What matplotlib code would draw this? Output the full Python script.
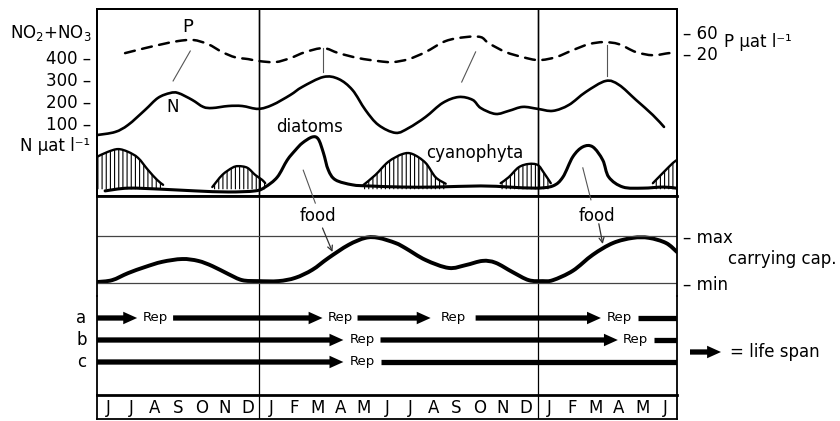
import matplotlib
matplotlib.use('Agg')
import matplotlib.pyplot as plt
from matplotlib.patches import FancyArrowPatch, ArrowStyle, PathPatch
from matplotlib.path import Path

# x axis is in months, 0 = start of June, 25 months shown
MONTHS = list('JJASOND') + list('JFMAMJJASOND') + list('JFMAMJ')
YEAR_BREAKS = [7, 19]

# NO2+NO3 (N, µat/l)
n_month = [0.0, 0.78, 1.34, 2.07, 2.63, 3.15, 3.50, 4.10, 4.58, 4.97, 5.66, 6.26, 6.95, 7.56, 8.33,
           8.85, 9.76, 10.41, 11.01, 11.57, 12.13, 12.87, 13.43, 14.16, 14.90, 15.59, 16.19, 16.54,
           17.18, 17.75, 18.35, 19.0, 19.65, 20.34, 21.07, 21.93, 22.50, 23.23, 23.96, 24.44]
n_value = [45, 59, 91, 159, 214, 236, 236, 205, 173, 168, 177, 177, 164, 182, 227,
           264, 309, 300, 250, 159, 91, 55, 77, 127, 191, 218, 205, 168,
           141, 155, 173, 164, 155, 182, 241, 291, 273, 205, 136, 82]

# P (µat/l), dashed
p_month = [1.21, 2.07, 2.81, 3.50, 4.15, 4.79, 5.40, 5.96, 6.52, 7.0, 7.69, 8.33, 8.98, 9.76, 10.41,
           11.27, 12.13, 12.74, 13.43, 14.16, 15.03, 15.89, 16.54, 16.88, 17.62, 18.35, 19.04, 19.78,
           20.51, 21.2, 21.85, 22.5, 23.23, 23.96, 24.65, 24.96]
p_value = [20, 29.5, 37, 43, 45, 37, 22, 12, 8.6, 4.8, 2.9, 10.5, 22, 29.5, 20,
           10.5, 4.8, 2.9, 8.6, 22, 43, 50.5, 50.5, 39, 22, 12.4, 6.7, 12.4,
           25.7, 37, 41, 37, 22, 16, 20, 20]

# diatoms (relative abundance)
dia_month = [0.35, 1.34, 2.81, 4.23, 5.66, 6.82, 7.25, 7.77, 8.20, 8.55, 8.85, 9.28, 9.54, 9.76, 9.97,
             10.28, 11.01, 11.70, 13.17, 14.59, 16.54, 17.75, 18.91, 19.65, 20.08, 20.51, 20.94,
             21.37, 21.80, 22.06, 22.67, 23.53, 24.40, 24.96]
dia_value = [0.02, 0.07, 0.05, 0.02, 0.0, 0.02, 0.09, 0.27, 0.58, 0.76, 0.89, 1.0, 0.96, 0.71, 0.40,
             0.22, 0.13, 0.11, 0.09, 0.09, 0.11, 0.09, 0.07, 0.11, 0.27, 0.64, 0.82,
             0.82, 0.58, 0.27, 0.09, 0.07, 0.09, 0.07]

# cyanophyta blooms (relative abundance)
cy1_month = [0.0, 0.47, 0.91, 1.34, 1.77, 2.20, 2.59, 2.85]
cy1_value = [0.64, 0.73, 0.78, 0.73, 0.62, 0.40, 0.22, 0.13]
cy2_month = [4.97, 5.40, 5.83, 6.09, 6.48, 6.82, 7.12, 7.25]
cy2_value = [0.09, 0.31, 0.44, 0.47, 0.44, 0.31, 0.22, 0.16]
cy3_month = [11.49, 12.0, 12.56, 13.17, 13.60, 14.16, 14.59, 15.03]
cy3_value = [0.13, 0.31, 0.55, 0.69, 0.69, 0.53, 0.27, 0.15]
cy4_month = [17.40, 17.75, 18.18, 18.61, 19.0, 19.26, 19.56]
cy4_value = [0.16, 0.27, 0.45, 0.51, 0.49, 0.35, 0.16]
cy5_month = [23.96, 24.40, 24.83, 25.0]
cy5_value = [0.16, 0.35, 0.53, 0.58]

# carrying capacity (0 = min, 1 = max)
cc_month = [0.0, 0.65, 1.34, 2.07, 2.81, 3.67, 4.36, 4.97, 5.66, 6.26, 6.95, 7.82, 8.55, 9.28, 9.97,
            10.84, 11.57, 12.13, 12.87, 13.30, 14.16, 15.16, 15.89, 16.62, 17.18, 17.92, 18.61,
            19.21, 19.65, 20.51, 21.37, 22.24, 23.10, 23.79, 24.53, 25.0]
cc_value = [0.02, 0.06, 0.21, 0.34, 0.45, 0.51, 0.47, 0.36, 0.19, 0.06, 0.04, 0.04, 0.11, 0.28, 0.53,
            0.81, 0.96, 0.96, 0.85, 0.74, 0.49, 0.32, 0.38, 0.47, 0.43, 0.23, 0.06,
            0.04, 0.06, 0.26, 0.60, 0.85, 0.96, 0.96, 0.85, 0.66]

# life span of generations a, b, c (month start, month end); gaps = reproduction
life_a = [(0, 1.73), (3.28, 9.72), (11.23, 14.38), (16.32, 21.72), (23.32, 25)]
life_b = [(0, 10.62), (12.22, 22.45), (24.0, 25)]
life_c = [(0, 10.62), (12.22, 25)]

# leader lines P peak -> N peak  (month, N)
leaders = [((4.02, 427), (3.28, 291)), ((9.72, 441), (9.72, 332)),
           ((16.32, 423), (15.72, 286)), ((21.98, 455), (21.98, 314))]
# diatom peak -> food -> carrying capacity (month, cap)
food_lines = [((8.89, 2.40), (9.41, 1.70)), ((20.94, 2.45), (21.29, 1.77))]
food_arrows = [((9.72, 1.17), (10.15, 0.66)), ((21.63, 1.26), (21.80, 0.83))]
food_text = [(9.54, 1.43), (21.55, 1.43)]

W, H = 840, 421
FS = 12
plt.rcParams['font.family'] = ['DejaVu Sans']
plt.rcParams['hatch.linewidth'] = 0.8
fig = plt.figure(figsize=(W / 100, H / 100), dpi=100)


def box(top, bottom):
    return [97 / W, 1 - bottom / H, 580 / W, (bottom - top) / H]


def smooth(xs, ys):
    # Catmull-Rom through the read points, drawn as cubic bezier
    pts = list(zip(xs, ys))
    n = len(pts)
    verts = [pts[0]]
    codes = [Path.MOVETO]
    for i in range(n - 1):
        p0, p1, p2, p3 = pts[max(i - 1, 0)], pts[i], pts[i + 1], pts[min(i + 2, n - 1)]
        c1 = (p1[0] + (p2[0] - p0[0]) / 6, p1[1] + (p2[1] - p0[1]) / 6)
        c2 = (p2[0] - (p3[0] - p1[0]) / 6, p2[1] - (p3[1] - p1[1]) / 6)
        verts += [c1, c2, p2]
        codes += [Path.CURVE4] * 3
    return verts, codes


def curve(ax, xs, ys, **kw):
    verts, codes = smooth(xs, ys)
    ax.add_patch(PathPatch(Path(verts, codes), fill=False, capstyle='round',
                           joinstyle='round', **kw))


def bloom(ax, xs, ys, base):
    verts, codes = smooth(xs, ys)
    verts = verts + [(xs[-1], base), (xs[0], base), (xs[0], base)]
    codes = codes + [Path.LINETO, Path.LINETO, Path.CLOSEPOLY]
    ax.add_patch(PathPatch(Path(verts, codes), facecolor='none', edgecolor='black',
                           hatch='||||', lw=0))
    curve(ax, xs, ys, color='black', lw=1.7)


ax_top = fig.add_axes(box(9, 196))
ax_p = ax_top.twinx()
ax_ph = ax_top.twinx()
ax_mid = fig.add_axes(box(196, 296))
ax_life = fig.add_axes(box(296, 395))
ax_mon = fig.add_axes(box(395, 419))

for ax in [ax_top, ax_p, ax_ph, ax_mid, ax_life, ax_mon]:
    ax.set_xlim(0, 25)
    ax.set_xticks([])
    ax.patch.set_visible(False)
    for s in ax.spines.values():
        s.set_linewidth(1.3)
    for xb in YEAR_BREAKS:
        ax.axvline(xb, color='black', lw=0.9)

# --- top panel: nutrients + phytoplankton
ax_top.set_ylim(-232, 618)
ax_top.spines['bottom'].set_linewidth(2)
ax_top.set_yticks([100, 200, 300, 400])
ax_top.set_yticklabels(['100 –', '200 –', '300 –', '400 –'], fontsize=FS)
ax_top.tick_params(axis='y', length=0, pad=4)
curve(ax_top, n_month, n_value, color='black', lw=1.9)
for (x0, y0), (x1, y1) in leaders:
    ax_top.plot([x0, x1], [y0, y1], color='#555555', lw=0.8)
ax_top.text(3.89, 536, 'P', fontsize=13, ha='center', va='center')
ax_top.text(3.28, 173, 'N', fontsize=12, ha='center', va='center')
ax_top.text(9.15, 82, 'diatoms', fontsize=FS, ha='center', va='center')
ax_top.text(16.28, -36, 'cyanophyta', fontsize=FS, ha='center', va='center')

ax_p.set_ylim(-252, 104)
ax_p.set_yticks([20, 60])
ax_p.set_yticklabels(['– 20', '– 60'], fontsize=FS)
ax_p.tick_params(axis='y', length=0, pad=4)
curve(ax_p, p_month, p_value, color='black', lw=1.8, linestyle=(0, (4, 3)))

ax_ph.set_ylim(-0.073, 3.327)
ax_ph.set_yticks([])
for cm, cv in [(cy1_month, cy1_value), (cy2_month, cy2_value), (cy3_month, cy3_value),
               (cy4_month, cy4_value), (cy5_month, cy5_value)]:
    bloom(ax_ph, cm, cv, 0.05)
curve(ax_ph, dia_month, dia_value, color='black', lw=2.2)

# --- carrying capacity
ax_mid.set_ylim(-0.277, 1.851)
ax_mid.spines['top'].set_visible(False)
ax_mid.spines['bottom'].set_visible(False)
ax_mid.axhline(1, color='#444444', lw=0.9)
ax_mid.axhline(0, color='#444444', lw=0.9)
ax_mid.yaxis.tick_right()
ax_mid.set_yticks([0, 1])
ax_mid.set_yticklabels(['– min', '– max'], fontsize=FS)
ax_mid.tick_params(axis='y', length=0, pad=4)
curve(ax_mid, cc_month, cc_value, color='black', lw=2.8)
for (x0, y0), (x1, y1) in food_lines:
    ax_mid.plot([x0, x1], [y0, y1], color='#555555', lw=0.8, clip_on=False)
for (x0, y0), (x1, y1) in food_arrows:
    ax_mid.annotate('', xy=(x1, y1), xytext=(x0, y0),
                    arrowprops=dict(arrowstyle='->', color='#333333', lw=0.9,
                                    shrinkA=0, shrinkB=0, mutation_scale=9))
for x, y in food_text:
    ax_mid.text(x, y, 'food', fontsize=FS, ha='center', va='center')

# --- life span arrows
ax_life.set_ylim(4.5, 0)
ax_life.set_yticks([])
ax_life.spines['top'].set_visible(False)
ax_life.spines['bottom'].set_visible(False)
arrow_style = ArrowStyle.Simple(head_length=10, head_width=9, tail_width=3.8)
for row, (name, segs) in enumerate([('a', life_a), ('b', life_b), ('c', life_c)], start=1):
    ax_life.text(-0.45, row, name, fontsize=FS, ha='right', va='center')
    for i, (x0, x1) in enumerate(segs):
        if x1 < 25:
            ax_life.add_patch(FancyArrowPatch((x0, row), (x1, row), arrowstyle=arrow_style,
                                              mutation_scale=1, shrinkA=0, shrinkB=0,
                                              color='black', lw=0))
            x_next = segs[i + 1][0]
            ax_life.text((x1 + x_next) / 2, row, 'Rep', fontsize=9.5, ha='center', va='center')
        else:
            ax_life.plot([x0, x1], [row, row], color='black', lw=3.8, solid_capstyle='butt')

# --- months
ax_mon.set_ylim(0, 1)
ax_mon.set_yticks([])
ax_mon.spines['top'].set_linewidth(2)
for i, m in enumerate(MONTHS):
    ax_mon.text(i + 0.5, 0.45, m, fontsize=FS, ha='center', va='center')

# --- side labels
fig.text(92 / W, 1 - 33 / H, r'NO$_2$+NO$_3$', fontsize=FS, ha='right', va='center')
fig.text(90 / W, 1 - 146 / H, 'N µat l⁻¹', fontsize=FS, ha='right', va='center')
fig.text(724 / W, 1 - 42 / H, 'P µat l⁻¹', fontsize=FS, ha='left', va='center')
fig.text(728 / W, 1 - 259 / H, 'carrying cap.', fontsize=FS, ha='left', va='center')
fig.add_artist(FancyArrowPatch((690 / W, 1 - 352 / H), (721 / W, 1 - 352 / H),
                               transform=fig.transFigure, arrowstyle=arrow_style,
                               mutation_scale=1, shrinkA=0, shrinkB=0, color='black', lw=0))
fig.text(730 / W, 1 - 352 / H, '= life span', fontsize=FS, ha='left', va='center')

fig.savefig('out.png', dpi=100)
